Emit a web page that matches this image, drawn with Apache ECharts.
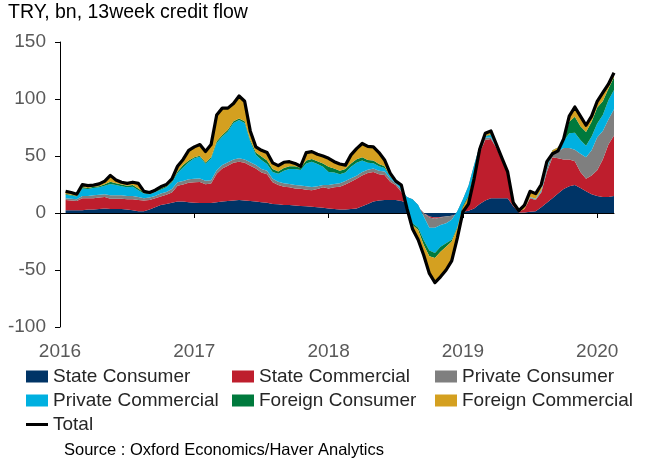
<!DOCTYPE html>
<html>
<head>
<meta charset="utf-8">
<script src="https://cdn.jsdelivr.net/npm/echarts@6/dist/echarts.min.js"></script>
<style>
html,body{margin:0;padding:0;background:#fff;}
#chart{width:651px;height:462px;}
</style>
</head>
<body>
<div id="chart"></div>
<script>
// Semi-monthly observation dates (1st and 15th), Jan 2016 - Feb 2020.
// The first entry (2016-01-01) is the axis origin and carries no data.
const dates = [];
for (let y = 2016; y <= 2020; y++) {
  for (let m = 0; m < 12; m++) {
    for (const d of [1, 15]) {
      const t = Date.UTC(y, m, d);
      if (t <= Date.UTC(2020, 1, 1)) dates.push(new Date(t).toISOString().slice(0, 10));
    }
  }
}
dates.push('2020-02-08');

const yearLabels = ['2016', '2017', '2018', '2019', '2020'];

const stateConsumer = [
  2.5, 2.5, 2.5, 2.5, 3, 3, 3.5, 4, 3.5, 3.5,
  3.5, 3, 2.5, 1.5, 1.5, 3, 5, 7, 8, 9,
  10, 10, 9.5, 9, 8.8, 8.8, 8.8, 9.5, 10, 10.5,
  11, 11.4, 11, 10.5, 10, 9.5, 9, 8, 7.6, 7,
  7, 6.5, 6.2, 6, 5.5, 5, 4.5, 4, 3.5, 3,
  3, 3.5, 4, 6, 8, 10, 11, 11.4, 11.5, 11.4,
  10.5, 9, 5, 3, 0, -3, -4, -3.5, -3, -2.5,
  -1, 1, 2, 4, 8, 11, 13, 13, 13, 13,
  6, 0.5, 0.5, 1, 1.5, 5, 9, 13, 17, 21,
  23.5, 24.5, 22, 19, 16.5, 15, 14, 14, 15
];
const stateCommercial = [
  9, 8.5, 8, 10.5, 10, 10, 10, 10, 9, 9,
  9, 9, 9.5, 10, 9.5, 8.5, 8, 7.5, 8, 9,
  14, 15, 17, 18, 18.5, 16.5, 17, 25, 29, 31,
  33, 33.6, 33, 31, 29, 26, 25, 19, 16.9, 16,
  15.5, 15, 15, 14.5, 14.5, 16, 18, 17.6, 19, 20,
  22, 24, 26, 27, 27, 26, 23, 22, 16, 13,
  8, 3, 4, 2, 0, -1, -1, -0.5, 0, 0,
  0.5, 3, 12, 28, 45, 53, 52, 44, 33, 24,
  3, 0.5, 3, 12, 10, 13, 27, 36, 31, 26,
  23.5, 21, 14, 11, 16.5, 22.5, 33, 46, 53
];
const privateConsumer = [
  1.5, 1.5, 1.5, 2, 2, 2.5, 2.5, 2.5, 3, 3,
  3, 3, 3, 2.5, 2, 2, 2, 2.5, 2.5, 3,
  3, 3, 3, 3, 3, 3, 3, 3, 3, 3,
  3, 3, 3, 3, 3, 3, 3, 3, 3, 3,
  3, 3, 3, 3, 2.8, 2.5, 2, 2.9, 3, 3,
  3, 3, 2.6, 3, 3, 3, 3, 3, 2.5, 1.5,
  2, 2, 3, 2, -3, -9, -8, -6.5, -6, -3.5,
  2, 8, 10, 10, 6, 2, 1.5, 0.5, 0.5, -0.5,
  0, 0, 0, 0.5, 0.5, 1, 3, 4, 6, 10,
  10, 10, 16, 19, 22, 29, 25, 22, 23
];
const privateCommercial = [
  3, 2.8, 2.5, 6.5, 6, 6.5, 6.5, 7.5, 10, 9,
  8, 7.5, 8, 6, 4, 3, 3.5, 3.5, 4, 6,
  8, 12, 15, 18, 19, 15, 19, 24, 25, 27,
  32, 33.6, 32, 18, 9, 8, 6, 6, 7, 11,
  13, 14, 13.5, 20, 22.2, 19.5, 16, 11.5, 10, 8,
  7.5, 10, 11.5, 10, 6, 4.6, 4, 3, 2, 1,
  3, -9, -21, -20, -21, -20, -22, -19, -17.5, -17.5,
  -14, -6, -9, -6, -1, 1, 2, 0.5, 0.5, 0,
  0, 0, 0, 0.5, 0.5, 1, 2, 2, 3, 6,
  13, 15, 12, 10, 12, 12, 14, 17, 17
];
const foreignConsumer = [
  0.7, 0.7, 0.5, 1.2, 1, 1, 1, 1.2, 2, 1.5,
  1.5, 1.5, 1.5, 1.5, 1, 0.5, 0.5, 1, 1, 1,
  1.5, 2, 1.5, 1, 1, 1, 1.2, 1.5, 1.4, 1.5,
  1.5, 1.4, 1.5, 1.5, 2, 3, 3, 2.5, 2, 2.5,
  2.5, 2.5, 2, 2.5, 2.4, 2.5, 3, 4.6, 3.5, 3,
  3, 3, 3, 3, 2.5, 2.4, 2, 1.6, 0.5, 0.5,
  0.5, -0.5, -1.5, -2, -4, -5, -4.5, -4.5, -3, -1.5,
  -1, -1, -1, -1, -0.5, 0.5, 0.5, 0.5, 0.5, 0,
  0, 0, 0, 0, 0, 0.5, 0.5, 0, 0.5, 1.5,
  10, 14, 12, 12, 13, 14, 12, 10, 11
];
const foreignCommercial = [
  2.3, 2, 1.5, 2.3, 2, 1.5, 2, 2.8, 5.5, 3,
  2, 2, 2.5, 4.5, 1, 1, 1, 1.5, 1.5, 2,
  4.5, 5, 9, 9, 9.7, 9.7, 11, 23, 23.6, 19,
  15.5, 19.6, 17.5, 8, 5, 5.5, 7, 5.5, 5, 5,
  4, 2.5, 1.3, 7, 6.4, 6, 6.5, 7.4, 6, 6,
  3.5, 7.5, 9.4, 12, 12, 12, 10, 5.5, 2.5, 0.6,
  0.5, -0.5, -3.5, -8.5, -9, -15, -21.5, -22, -20.5, -17,
  -8.5, -4, -6, -5, -1.5, 2.5, 3, 1.5, 0.5, -0.5,
  0, 1, 3.5, 5, 4.5, 4.5, 3.5, -3, -3, 0.5,
  5, 8.5, 9, 6, 5, 5.5, 7.5, 4, 4
];
const total = [
  19, 18, 16.5, 25, 24, 24.5, 25.5, 28, 33, 29,
  27, 26, 27, 26, 19, 18, 20, 23, 25, 30,
  41, 47, 55, 58, 60, 54, 60, 86, 92, 92,
  96, 102.6, 98, 72, 58, 55, 53, 44, 41.5, 44.5,
  45, 43.5, 41, 53, 53.8, 51.5, 50, 48, 45, 43,
  42, 51, 56.5, 61, 58.5, 58, 53, 46.5, 35, 28,
  24.5, 4, -14, -23.5, -37, -53, -61, -56, -50, -42,
  -22, 1, 8, 30, 56, 70, 72, 60, 48, 36,
  9, 2, 7, 19, 17, 25, 45, 52, 54.5, 65,
  85, 93, 85, 77, 85, 98, 105.5, 113, 123
];

const names = ['State Consumer', 'State Commercial', 'Private Consumer',
  'Private Commercial', 'Foreign Consumer', 'Foreign Commercial'];
const colors = ['#003466', '#BE1E2D', '#7F7F7F', '#00B0E0', '#007A3D', '#D4A020'];
const stackData = [stateConsumer, stateCommercial, privateConsumer,
  privateCommercial, foreignConsumer, foreignCommercial];

const FONT = 'Liberation Sans, Arial, sans-serif';
const isYearStart = (i) => yearLabels.some(y => dates[i] === y + '-01-01');

const series = stackData.map((arr, i) => ({
  name: names[i],
  type: 'line',
  stack: 'credit',
  stackStrategy: 'all',
  xAxisIndex: 0,
  symbol: 'none',
  showSymbol: false,
  lineStyle: { width: 0, opacity: 0 },
  areaStyle: { color: colors[i], opacity: 1 },
  itemStyle: { color: colors[i] },
  emphasis: { disabled: true },
  data: [null].concat(arr),
  z: 2
}));
series.push({
  name: 'Total',
  type: 'line',
  xAxisIndex: 0,
  symbol: 'none',
  showSymbol: false,
  lineStyle: { color: '#000', width: 3.2, join: 'round' },
  itemStyle: { color: '#000' },
  emphasis: { disabled: true },
  data: [null].concat(total),
  z: 5
});

const legendText = { fontSize: 19, color: '#262626', fontFamily: FONT };
const legendPos = [
  { name: 'State Consumer', left: 26, top: 367 },
  { name: 'State Commercial', left: 232, top: 367 },
  { name: 'Private Consumer', left: 435, top: 367 },
  { name: 'Private Commercial', left: 26, top: 391 },
  { name: 'Foreign Consumer', left: 232, top: 391 },
  { name: 'Foreign Commercial', left: 435, top: 391 }
];
const legends = legendPos.map(p => ({
  data: [p.name], left: p.left, top: p.top, padding: 0,
  itemWidth: 22, itemHeight: 12, icon: 'rect',
  textStyle: legendText, selectedMode: false
}));
legends.push({
  data: ['Total'], left: 26, top: 415, padding: 0,
  itemWidth: 22, itemHeight: 3, icon: 'rect',
  textStyle: legendText, selectedMode: false
});

const option = {
  animation: false,
  backgroundColor: '#fff',
  title: {
    text: 'TRY, bn, 13week credit flow',
    left: 8, top: 3, padding: 0,
    textStyle: { fontSize: 19.5, fontWeight: 'normal', color: '#000', fontFamily: FONT }
  },
  grid: { left: 60, right: 37, top: 42, bottom: 135 },
  legend: legends,
  xAxis: [
    {
      type: 'category', data: dates, boundaryGap: false,
      axisLine: { onZero: true, lineStyle: { color: '#000', width: 1 } },
      axisTick: { show: true, interval: (i) => isYearStart(i), inside: false, length: 5, lineStyle: { color: '#000' } },
      axisLabel: { show: false },
      splitLine: { show: false }
    },
    {
      type: 'category', data: dates, boundaryGap: false, position: 'bottom',
      axisLine: { show: false, onZero: false },
      axisTick: { show: false },
      splitLine: { show: false },
      axisLabel: {
        interval: (i) => isYearStart(i),
        formatter: v => v.slice(0, 4),
        fontSize: 19, color: '#595959', fontFamily: FONT, margin: 15
      }
    }
  ],
  yAxis: {
    type: 'value', min: -100, max: 150, interval: 50,
    axisLine: { show: true, onZero: false, lineStyle: { color: '#000', width: 1 } },
    axisTick: { show: true, length: 5, lineStyle: { color: '#000' } },
    axisLabel: { fontSize: 19, color: '#595959', fontFamily: FONT, margin: 14 },
    splitLine: { show: false }
  },
  graphic: [{
    type: 'text', left: 64, top: 442,
    style: { text: 'Source : Oxford Economics/Haver Analytics', fontSize: 16.5, fill: '#000', fontFamily: FONT }
  }],
  series: series
};

const chart = echarts.init(document.getElementById('chart'), null, { renderer: 'canvas' });
chart.setOption(option);
</script>
</body>
</html>
